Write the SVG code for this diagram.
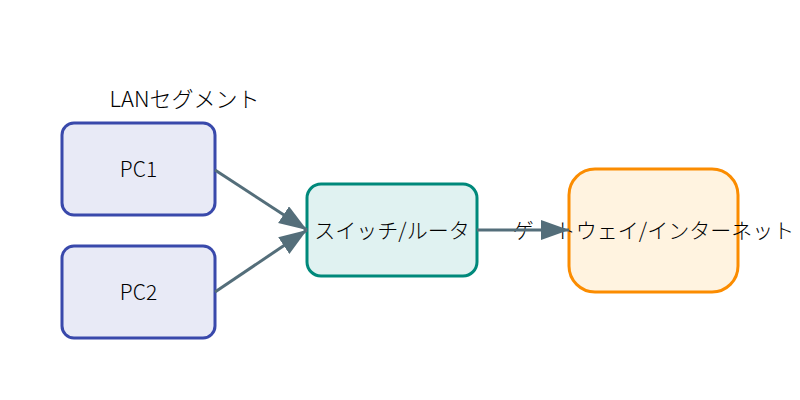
<svg xmlns="http://www.w3.org/2000/svg" width="800" height="400" viewBox="0 0 800 400">
<defs>
<style>
text{font-family:"Noto Sans CJK JP","Noto Sans",sans-serif;font-size:21px;font-weight:300;fill:#000;}
.pc{fill:#E8EAF6;stroke:#3949AB;stroke-width:3;}
.sw{fill:#E0F2F1;stroke:#00897B;stroke-width:3;}
.gw{fill:#FFF3E0;stroke:#FB8C00;stroke-width:3;}
.edge{stroke:#546E7A;stroke-width:3;fill:none;}
</style>
<marker id="arr" markerUnits="userSpaceOnUse" markerWidth="30" markerHeight="22" refX="28" refY="10" orient="auto">
<path d="M0,0 L28,10 L0,20 Z" fill="#546E7A"/>
</marker>
</defs>
<rect width="800" height="400" fill="#fff"/>
<text x="184.5" y="107" text-anchor="middle" style="font-size:22px">LANセグメント</text>
<g id="pc1"><rect class="pc" x="62" y="123" width="153" height="92" rx="12"/><text x="138.5" y="177" text-anchor="middle">PC1</text></g>
<g id="pc2"><rect class="pc" x="62" y="246" width="153" height="92" rx="12"/><text x="138.5" y="300" text-anchor="middle">PC2</text></g>
<g id="switch"><rect class="sw" x="307" y="184" width="170" height="92" rx="14"/><text x="392" y="238" text-anchor="middle">スイッチ/ルータ</text></g>
<g id="gateway"><rect class="gw" x="569" y="169" width="169" height="123" rx="26"/><text x="653.5" y="238" text-anchor="middle">ゲートウェイ/インターネット</text></g>
<g id="edges">
<line class="edge" x1="215" y1="170" x2="307" y2="230" marker-end="url(#arr)"/>
<line class="edge" x1="215" y1="292" x2="307" y2="230" marker-end="url(#arr)"/>
<line class="edge" x1="477" y1="230" x2="569" y2="230" marker-end="url(#arr)"/>
</g>
</svg>
